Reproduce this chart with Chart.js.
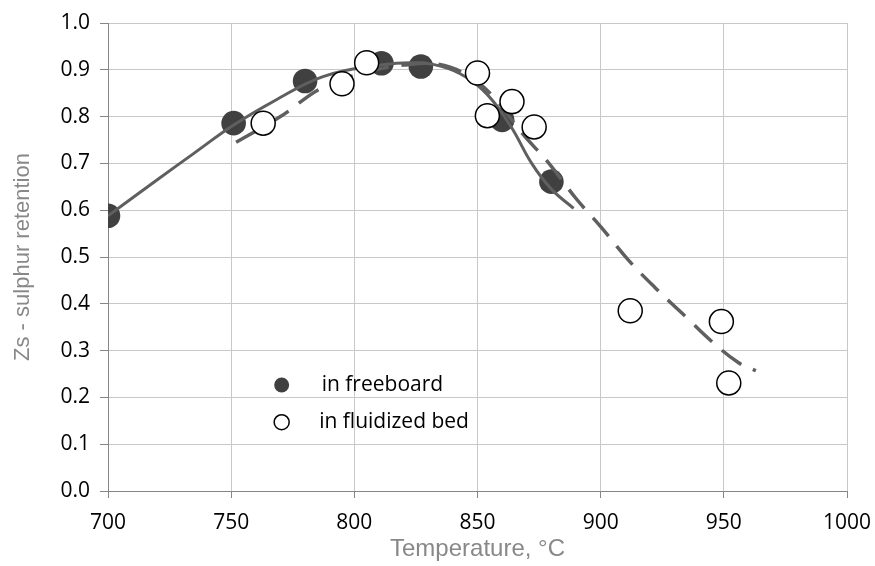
<!DOCTYPE html>
<html>
<head>
<meta charset="utf-8">
<script src="https://cdn.jsdelivr.net/npm/chart.js@4/dist/chart.umd.min.js"></script>
<style>
  html, body { margin:0; padding:0; background:#fff; }
</style>
</head>
<body>
<canvas id="chart" width="875" height="566"></canvas>
<script>
// measured points
const freeboardTemp = [700, 751, 780, 811, 827, 860, 880];
const freeboardZs   = [0.588, 0.786, 0.876, 0.914, 0.907, 0.793, 0.661];
const bedTemp = [763, 795, 805, 850, 854, 864, 873, 912, 949, 952];
const bedZs   = [0.786, 0.870, 0.915, 0.893, 0.802, 0.832, 0.778, 0.385, 0.362, 0.231];

// fitted curves
const freeboardFitTemp = [700, 720, 735, 751, 768, 787, 808, 826, 838, 848, 856, 864, 872, 880, 889];
const freeboardFitZs   = [0.588, 0.665, 0.722, 0.782, 0.835, 0.885, 0.908, 0.915, 0.903, 0.875, 0.835, 0.775, 0.70, 0.645, 0.604];
const bedFitTemp = [752, 770, 787, 805, 820, 834, 846, 856, 868, 879, 890, 900, 911, 922, 935, 945, 956, 963];
const bedFitZs   = [0.745, 0.80, 0.862, 0.895, 0.91, 0.912, 0.888, 0.845, 0.765, 0.70, 0.625, 0.565, 0.495, 0.435, 0.37, 0.32, 0.274, 0.257];

const legendLabels = ['in freeboard', 'in fluidized bed'];

const pts = (xs, ys) => xs.map((x, i) => ({x, y: ys[i]}));
const tickFont = {family:'Open Sans', size:21};
const gridCol = '#c8c8c8';
const axisCol = '#868686';

// legend drawn inside the plot area
const innerLegend = {
  id:'innerLegend',
  afterDraw(chart) {
    const {ctx, chartArea:a} = chart;
    const w = a.right - a.left, h = a.bottom - a.top;
    const mx = a.left + 0.235 * w;
    const rows = [a.top + 0.7735 * h, a.top + 0.853 * h];
    ctx.save();
    ctx.font = '21px "Open Sans"';
    ctx.textBaseline = 'middle';
    rows.forEach((y, i) => {
      ctx.beginPath();
      ctx.arc(mx, y, 7.5, 0, Math.PI * 2);
      if (i === 0) { ctx.fillStyle = '#404040'; ctx.fill(); }
      else { ctx.fillStyle = '#fff'; ctx.fill(); ctx.lineWidth = 1.5; ctx.strokeStyle = '#000'; ctx.stroke(); }
      ctx.fillStyle = '#000';
      ctx.fillText(legendLabels[i], mx + 40 - (i ? 2.5 : 0), y);
    });
    ctx.restore();
  }
};

new Chart(document.getElementById('chart'), {
  type:'scatter',
  data:{
    datasets:[
      {label:'in fluidized bed', data:pts(bedTemp, bedZs), order:0,
       pointRadius:12, pointBackgroundColor:'#fff', pointBorderColor:'#000', pointBorderWidth:1.5},
      {label:'fit freeboard', data:pts(freeboardFitTemp, freeboardFitZs), order:1, showLine:true,
       pointRadius:0, borderColor:'#5f5f5f', borderWidth:3, tension:0.4},
      {label:'fit bed', data:pts(bedFitTemp, bedFitZs), order:2, showLine:true,
       pointRadius:0, borderColor:'#5f5f5f', borderWidth:3.5, borderDash:[24,13], tension:0.4},
      {label:'in freeboard', data:pts(freeboardTemp, freeboardZs), order:3,
       pointRadius:12.3, pointBackgroundColor:'#404040', pointBorderWidth:0},
    ]
  },
  options:{
    responsive:false,
    animation:false,
    devicePixelRatio:1,
    layout:{padding:{top:23, right:28, left:0, bottom:0}},
    plugins:{legend:{display:false}, tooltip:{enabled:false}},
    scales:{
      x:{
        min:700, max:1000,
        ticks:{stepSize:50, font:tickFont, color:'#000', padding:12, maxRotation:0, callback:v => String(v)},
        grid:{color:gridCol, tickColor:axisCol, tickLength:7},
        border:{color:axisCol, width:1},
        title:{display:true, text:'Temperature, °C', color:'#888', font:{family:'Liberation Sans', size:24}, padding:{top:0, bottom:2}},
        afterFit(s){ s.height = 75; s.paddingLeft = 0; s.paddingRight = 0; }
      },
      y:{
        min:0, max:1,
        ticks:{stepSize:0.1, font:tickFont, color:'#000', padding:10, callback:v => v.toFixed(1)},
        grid:{color:gridCol, tickColor:axisCol, tickLength:8},
        border:{color:axisCol, width:1},
        title:{display:true, text:'Zs - sulphur retention', color:'#888', font:{family:'Liberation Sans', size:22}, padding:{top:10, bottom:0}},
        afterFit(s){ s.width = 108; s.paddingTop = 0; s.paddingBottom = 0; }
      }
    }
  },
  plugins:[innerLegend]
});
</script>
</body>
</html>
